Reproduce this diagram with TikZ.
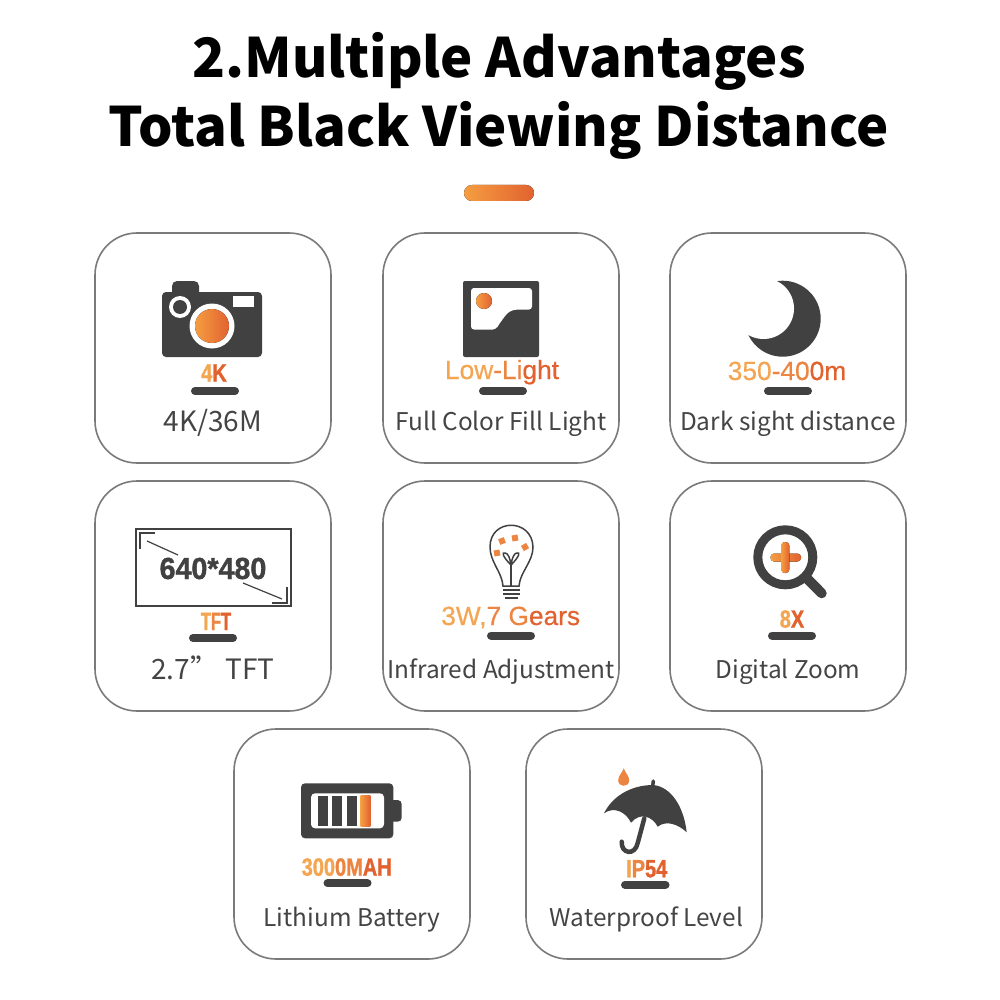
\documentclass[tikz,border=0pt]{standalone}
\usepackage{fontspec}
\setmainfont{Noto Sans CJK SC}
\newfontfamily\labelfont[FakeBold=0.5]{Liberation Sans}
\newfontfamily\condfont[FakeStretch=0.8,FakeBold=1.2]{Liberation Sans}
\newfontfamily\condnarrow[FakeStretch=0.66,FakeBold=1.2]{Liberation Sans}
\newfontfamily\condwide[FakeStretch=0.94,FakeBold=1.2]{Liberation Sans}
\definecolor{iconDark}{HTML}{414141}
\definecolor{captionGray}{HTML}{444444}
\definecolor{cardEdge}{HTML}{7A7A7A}
\definecolor{orA}{HTML}{F3A552}
\definecolor{orB}{HTML}{EC8542}
\definecolor{orC}{HTML}{E1622F}
\newcommand{\grad}[3]{\textcolor{orA}{#1}\textcolor{orB}{#2}\textcolor{orC}{#3}}
\tikzset{
  card/.style={draw=cardEdge,line width=1.6pt,rounded corners=42pt,minimum width=236pt,minimum height=230pt,inner sep=0pt},
  barline/.style={line width=8pt,line cap=round,draw=iconDark},
  caption/.style={anchor=base,text=captionGray,inner sep=0pt,font=\fontsize{24.4}{25}\selectfont},
  bigcaption/.style={caption,font=\fontsize{28}{28}\selectfont},
  titletext/.style={anchor=base,text=black,inner sep=0pt,font=\fontsize{54.3}{55}\selectfont\bfseries},
  plainlabel/.style={anchor=base,inner sep=0pt,font=\labelfont\fontsize{26.3}{26}\selectfont},
  condlabel/.style={anchor=base,inner sep=0pt,font=\condfont\bfseries\fontsize{25}{25}\selectfont},
  narrowlabel/.style={condlabel,font=\condnarrow\bfseries\fontsize{25}{25}\selectfont},
  pixellabel/.style={condlabel,text=iconDark,font=\condwide\bfseries\fontsize{30.5}{31}\selectfont},
  orangefill/.style={left color=orA!80!orange,right color=orC,draw=none},
}
\begin{document}
\begin{tikzpicture}[x=1pt,y=-1pt]
  \useasboundingbox (0,0) rectangle (1000,1000);
  \node[titletext] (titleA) at (499,78) {2.Multiple Advantages};
  \node[titletext] (titleB) at (499,147) {Total Black Viewing Distance};
  \fill[orangefill,rounded corners=8pt] (464,185) rectangle (534,201);

  \node[card] (cardCamera) at (213,348) {};
  \node[card] (cardLight) at (501,348) {};
  \node[card] (cardMoon) at (788,348) {};
  \node[card] (cardScreen) at (213,596) {};
  \node[card] (cardBulb) at (501,596) {};
  \node[card] (cardZoom) at (788,596) {};
  \node[card] (cardBattery) at (352,844) {};
  \node[card] (cardUmbrella) at (644,844) {};

  % camera
  \fill[iconDark,rounded corners=4pt] (162,292) rectangle (262,357);
  \fill[iconDark,rounded corners=5pt] (172,281) rectangle (199,300);
  \fill[white] (233,296) rectangle (254,307);
  \fill[white] (180,307) circle (11);
  \fill[iconDark] (180,307) circle (7);
  \fill[white] (212,326) circle (22.5);
  \fill[orangefill] (212,326) circle (17);
  \node[condlabel] (tagCamera) at (214,381.5) {\grad{4}{}{K}};
  \draw[barline] (195,391) -- (235,391);
  \node[bigcaption] (capCamera) at (213,431) {4K/36M};

  % low light picture
  \fill[iconDark,rounded corners=2pt] (463,281) rectangle (539,357);
  \fill[white,rounded corners=3pt] (471,288) -- (532,288) -- (532,309.5) -- (520,309.5)
    .. controls (507,310) and (504,318) .. (499,324) .. controls (497,328) and (494,329.5) .. (490,329.5)
    -- (471,329.5) -- cycle;
  \fill[orangefill] (484,301) circle (8);
  \node[plainlabel] (tagLight) at (502,379) {\grad{Low}{-Li}{ght}};
  \draw[barline] (483,391) -- (523,391);
  \node[caption] (capLight) at (501,430) {Full Color Fill Light};

  % moon
  \fill[iconDark] (782.7,318.7) circle (38);
  \fill[white] (763.5,308.5) circle (30.5);
  \node[plainlabel] (tagMoon) at (787,380) {\grad{350}{-40}{0m}};
  \draw[barline] (768,391) -- (808,391);
  \node[caption] (capMoon) at (788,430) {Dark sight distance};

  % screen
  \draw[iconDark,line width=1.3pt] (136,529) rectangle (291,606);
  \draw[iconDark,line width=1.2pt] (155,533) -- (140,533) -- (140,549);
  \draw[iconDark,line width=1.2pt] (147,541) -- (178,555);
  \draw[iconDark,line width=1.2pt] (243,583) -- (282,599);
  \draw[iconDark,line width=1.2pt] (287,587) -- (287,603) -- (272,603);
  \node[pixellabel] (tagPixels) at (213,579) {640*480};
  \node[narrowlabel] (tagScreen) at (216,630) {\grad{T}{F}{T}};
  \draw[barline] (193,638) -- (233,638);
  \node[bigcaption] (capScreen) at (213,679) {2.7”\hspace{7.5pt}TFT};

  % bulb
  \draw[iconDark,line width=1.5pt] (503,586) .. controls (502,572) and (490,562) .. (490,547)
    .. controls (490,518) and (532,518) .. (533,547) .. controls (533,562) and (520,572) .. (519,586) -- cycle;
  \draw[iconDark,line width=1.5pt] (511,586) -- (511,560);
  \draw[iconDark,line width=1.5pt] (511,565) .. controls (502,556) and (502,552) .. (505,553) .. controls (508,553) and (510,558) .. (511,565)
    .. controls (512,558) and (514,553) .. (517,553) .. controls (520,552) and (520,556) .. (511,565);
  \draw[iconDark,line width=1.6pt] (503,590) -- (520,590);
  \draw[iconDark,line width=1.6pt] (503,594) -- (520,594);
  \draw[iconDark,line width=1.6pt] (505,598) -- (518,598);
  \fill[orB,rotate around={20:(502,541)}] (499,538) rectangle (505,544);
  \fill[orB,rotate around={10:(515,538)}] (512,535) rectangle (518,541);
  \fill[orB,rotate around={30:(525,547)}] (522,544) rectangle (528,550);
  \fill[orB,rotate around={10:(497,553)}] (494,550) rectangle (500,556);
  \node[plainlabel] (tagBulb) at (510.7,625) {\grad{3W,}{7 G}{ears}};
  \draw[barline] (491,635.5) -- (531,635.5);
  \node[caption] (capBulb) at (501,678) {Infrared Adjustment};

  % magnifier
  \draw[iconDark,line width=9pt] (785.3,557.3) circle (27.5);
  \draw[iconDark,line width=10pt,line cap=round] (807,578.5) -- (821.7,593.3);
  \fill[orangefill,rounded corners=3.5pt] (770.5,553.5) rectangle (801,561.5);
  \fill[orangefill,rounded corners=3.5pt] (781.3,542) rectangle (789.3,573);
  \node[condlabel] (tagZoom) at (792,627.7) {\grad{8}{}{X}};
  \draw[barline] (772,635.5) -- (812,635.5);
  \node[caption] (capZoom) at (788,678) {Digital Zoom};

  % battery
  \fill[iconDark,rounded corners=4pt] (301,783.3) rectangle (393.3,838.3);
  \fill[iconDark,rounded corners=4pt] (385,800) rectangle (401.7,821.7);
  \fill[white,rounded corners=4pt] (311,793.3) rectangle (384,828.3);
  \fill[iconDark] (317.7,795.7) rectangle (327.7,826);
  \fill[iconDark] (332.3,795.7) rectangle (342.3,826);
  \fill[iconDark] (346.7,795.7) rectangle (356.7,826);
  \fill[orangefill] (360.7,795.7) rectangle (370.3,826);
  \node[condlabel] (tagBattery) at (346.7,875.7) {\grad{300}{0M}{AH}};
  \draw[barline] (327.5,883.3) -- (367.5,883.3);
  \node[caption] (capBattery) at (352,926.5) {Lithium Battery};

  % umbrella
  \fill[orB] (623.7,768.3) .. controls (622,773) and (618.2,776) .. (618.2,780.3)
    .. controls (618.2,787.6) and (629.2,787.6) .. (629.2,780.3) .. controls (629.2,776) and (625.4,773) .. (623.7,768.3) -- cycle;
  \draw[iconDark,line width=3.5pt,line cap=round] (653.3,781) -- (652.5,788);
  \fill[iconDark] (604,813.3) .. controls (612,797) and (630,785) .. (653.3,785)
    .. controls (672,787) and (684,808) .. (686.7,832.3)
    .. controls (678,824) and (666,820) .. (657.7,826.7)
    .. controls (652,816) and (640,812) .. (631,822.7)
    .. controls (626,812) and (614,806) .. (604,813.3) -- cycle;
  \draw[iconDark,line width=4.5pt,line cap=round] (644.3,818.3) -- (637.7,843)
    .. controls (635,856) and (621,854) .. (621.7,841.7);
  \node[condlabel] (tagUmbrella) at (646.7,877.3) {\grad{I}{P}{54}};
  \draw[barline] (625,884.7) -- (665.5,884.7);
  \node[caption] (capUmbrella) at (646.5,926.5) {Waterproof Level};
\end{tikzpicture}
\end{document}
